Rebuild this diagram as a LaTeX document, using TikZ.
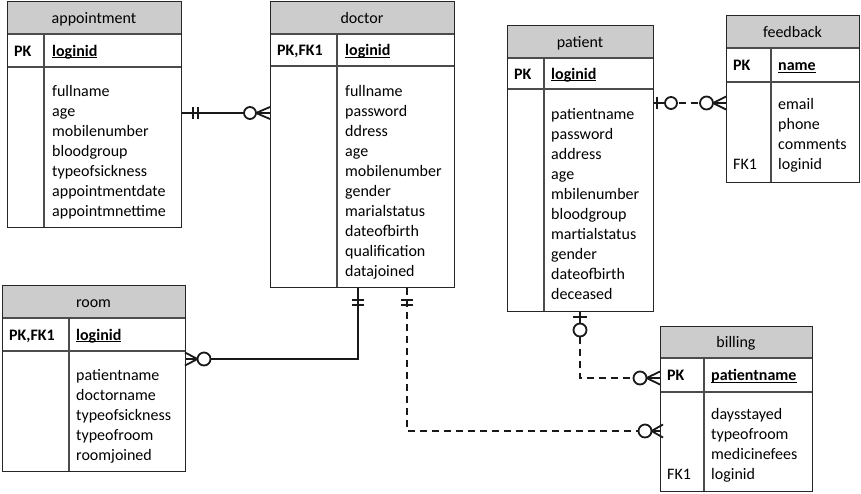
\documentclass[tikz,border=0pt]{standalone}
\usepackage{fontspec}
\setmainfont{Carlito}
\definecolor{hdrgray}{RGB}{204,204,204}
\newcommand\pkul[1]{\underline{\smash{#1}}}
\newcommand\erentity[9]{%
  \fill[hdrgray] (#2,#3) rectangle (#4,#6);
  \draw[rowline] (#2,#6) -- (#4,#6) (#2,#7) -- (#4,#7) (#8,#6) -- (#8,#5);
  \node[entbox, minimum width=#4pt-#2pt, minimum height=#5pt-#3pt, anchor=north west] (#1) at (#2,#3) {};
  \node[ttl] (#1-title) at ({(#2+#4)/2},{(#3+#6)/2+5.5}) {#9};
}
\begin{document}
\begin{tikzpicture}[x=1pt,y=-1pt,
  entbox/.style={draw=black!85, line width=1.2pt, inner sep=0pt},
  rowline/.style={draw=black!70, line width=1.2pt},
  ttl/.style={anchor=base, inner sep=0pt, font=\fontsize{16}{20}\selectfont},
  fld/.style={anchor=base west, inner sep=0pt, font=\fontsize{16}{20}\selectfont},
  key/.style={anchor=base west, inner sep=0pt, font=\fontsize{16}{20}\selectfont\bfseries},
  conn/.style={line width=1.8pt, draw=black!90},
  dconn/.style={conn, dash pattern=on 7pt off 5pt},
  dot/.style={conn, fill=white}]
\useasboundingbox (0,0) rectangle (861,493);

% appointment
\erentity{appt}{7}{1}{181}{227}{34}{67}{44}{appointment}
\node[key] (appt-pk) at (14,56) {PK};
\node[key] (appt-pkf) at (52,56) {\pkul{loginid}};
\foreach \t [count=\i from 0] in {fullname,age,mobilenumber,bloodgroup,typeofsickness,appointmentdate,appointmnettime}
  \node[fld] (appt-f\i) at (52,96+20*\i) {\t};

% doctor
\erentity{doctor}{270}{1}{454}{287}{34}{66}{337}{doctor}
\node[key] (doctor-pk) at (277,55.5) {PK,FK1};
\node[key] (doctor-pkf) at (345,55.5) {\pkul{loginid}};
\foreach \t [count=\i from 0] in {fullname,password,ddress,age,mobilenumber,gender,marialstatus,dateofbirth,qualification,datajoined}
  \node[fld] (doctor-f\i) at (345,96+20*\i) {\t};

% patient
\erentity{patient}{507}{25}{653}{311}{58}{89}{544}{patient}
\node[key] (patient-pk) at (514,79) {PK};
\node[key] (patient-pkf) at (551,79) {\pkul{loginid}};
\foreach \t [count=\i from 0] in {patientname,password,address,age,mbilenumber,bloodgroup,martialstatus,gender,dateofbirth,deceased}
  \node[fld] (patient-f\i) at (551,119.5+20*\i) {\t};

% feedback
\erentity{feedback}{726}{15}{859}{182}{48}{82}{771}{feedback}
\node[key] (feedback-pk) at (733,70.5) {PK};
\node[key] (feedback-pkf) at (778,70.5) {\pkul{name}};
\foreach \t [count=\i from 0] in {email,phone,comments,loginid}
  \node[fld] (feedback-f\i) at (778,109.5+20*\i) {\t};
\node[fld] (feedback-fk) at (733,169.5) {FK1};

% room
\erentity{room}{2}{285}{185}{471}{318}{351}{69}{room}
\node[key] (room-pk) at (9,340) {PK,FK1};
\node[key] (room-pkf) at (76,340) {\pkul{loginid}};
\foreach \t [count=\i from 0] in {patientname,doctorname,typeofsickness,typeofroom,roomjoined}
  \node[fld] (room-f\i) at (76,380+20*\i) {\t};

% billing
\erentity{billing}{660}{326}{812}{491}{358}{392}{704}{billing}
\node[key] (billing-pk) at (667,380.5) {PK};
\node[key] (billing-pkf) at (711,380.5) {\pkul{patientname}};
\foreach \t [count=\i from 0] in {daysstayed,typeofroom,medicinefees,loginid}
  \node[fld] (billing-f\i) at (711,419+20*\i) {\t};
\node[fld] (billing-fk) at (667,479) {FK1};

% ---- connectors ----
% appointment -- doctor
\coordinate (ya) at (0,113);
\draw[conn] (appt.east |- ya) -- (doctor.west |- ya);
\draw[conn] (193,107) -- (193,119) (198,107) -- (198,119);
\draw[dot] (250,113) circle (6);
\draw[conn] (256,113) -- (270,107) (256,113) -- (270,119);

% patient -- feedback
\coordinate (yb) at (0,103);
\draw[conn] (patient.east |- yb) -- (665,103);
\draw[conn] (657,97) -- (657,109);
\draw[dot] (671,103) circle (6);
\draw[dconn] (679,103) -- (700,103);
\draw[dot] (706.5,103) circle (6.5);
\draw[conn] (713,103) -- (feedback.west |- yb);
\draw[conn] (713,103) -- (726,96.5) (713,103) -- (726,109.5);

% doctor -- room
\coordinate (xc) at (358,359);
\draw[conn] (doctor.south -| xc) |- (room.east |- xc);
\draw[conn] (352,300) -- (364,300) (352,305) -- (364,305);
\draw[dot] (204,359) circle (6.5);
\draw[conn] (197.5,359) -- (185,352.5) (197.5,359) -- (185,365.5);

% doctor -- billing
\coordinate (xd) at (407,431);
\draw[dconn] (doctor.south -| xd) |- (638.5,431);
\draw[conn] (401,300) -- (413,300) (401,305) -- (413,305);
\draw[dot] (645,431) circle (6.5);
\draw[conn] (651.5,431) -- (billing.west |- xd);
\draw[conn] (651.5,431) -- (663,424.5) (651.5,431) -- (663,437.5);

% patient -- billing
\coordinate (xe) at (580,378);
\draw[conn] (patient.south -| xe) -- (580,323.5);
\draw[conn] (573,317) -- (587,317);
\draw[dot] (580,330) circle (6.5);
\draw[dconn] (580,336.5) |- (633.5,378);
\draw[dot] (640,378) circle (6.5);
\draw[conn] (646.5,378) -- (billing.west |- xe);
\draw[conn] (646.5,378) -- (660,371.5) (646.5,378) -- (660,384.5);
\end{tikzpicture}
\end{document}
